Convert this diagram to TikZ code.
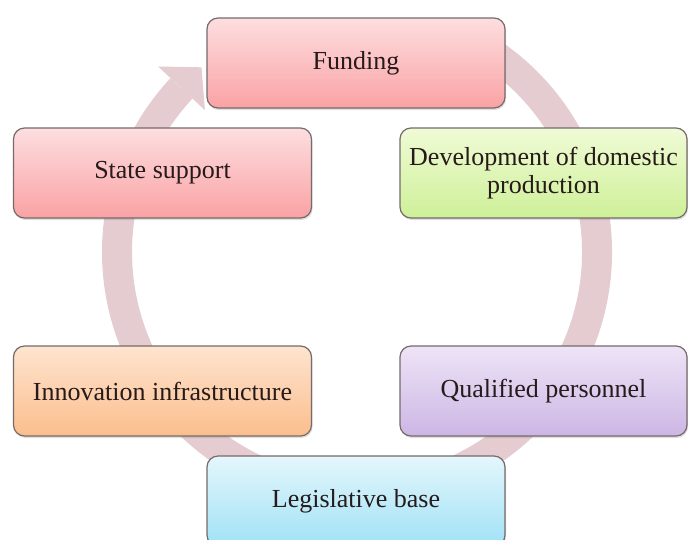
\documentclass[tikz,border=0pt]{standalone}
\usepackage{fontspec}
\setmainfont{Liberation Serif}
\usetikzlibrary{shadows}
\definecolor{ringc}{RGB}{229,204,208}
\definecolor{edgec}{RGB}{118,106,106}
\definecolor{txt}{RGB}{38,26,26}
\definecolor{redT}{RGB}{253,222,224}
\definecolor{redB}{RGB}{250,162,164}
\definecolor{grnT}{RGB}{240,251,214}
\definecolor{grnB}{RGB}{206,240,152}
\definecolor{purT}{RGB}{238,228,247}
\definecolor{purB}{RGB}{204,182,228}
\definecolor{orgT}{RGB}{254,228,208}
\definecolor{orgB}{RGB}{251,190,140}
\definecolor{cyaT}{RGB}{228,246,252}
\definecolor{cyaB}{RGB}{160,226,246}
\tikzset{
  cyclebox/.style={draw=edgec, line width=1.2pt, rounded corners=11pt,
    minimum height=90pt, text=txt, align=center, inner sep=0pt,
    font=\fontsize{26}{28}\selectfont,
    drop shadow={opacity=0.25, shadow xshift=1pt, shadow yshift=-2pt}},
  widebox/.style={cyclebox, minimum width=298pt},
  narrowbox/.style={cyclebox, minimum width=287pt},
  redbox/.style={top color=redT, bottom color=redB},
  grnbox/.style={top color=grnT, bottom color=grnB},
  purbox/.style={top color=purT, bottom color=purB},
  orgbox/.style={top color=orgT, bottom color=orgB},
  cyabox/.style={top color=cyaT, bottom color=cyaB},
  ring/.style={draw=ringc, line width=30pt},
  ringhead/.style={fill=ringc, draw=none}
}
\begin{document}
\begin{tikzpicture}[x=1pt,y=-1pt]
\clip (0,0) rectangle (688,539);
\fill[white] (0,0) rectangle (688,539);
% circular arrow
\coordinate (ctr) at (357,252);
\draw[ring] (ctr) ++(-60:240) arc[start angle=-60, end angle=223, radius=240];
\coordinate (hout) at (158.1,66.5);
\coordinate (hin) at (204.9,110.1);
\coordinate (htip) at (201.5,67.3);
\fill[ringhead] (hout) -- (htip) -- (hin) -- cycle;
% boxes
\node[widebox, redbox] (fund) at (356,63) {Funding};
\node[widebox, redbox] (state) at (162.5,173) {State support};
\node[narrowbox, grnbox] (dev) at (543.5,173) {Development of domestic\\production};
\node[widebox, orgbox] (innov) at (162.5,391) {Innovation infrastructure};
\node[narrowbox, purbox] (qual) at (543.5,391) {Qualified personnel};
\node[widebox, cyabox] (legis) at (356,501) {Legislative base};
\end{tikzpicture}
\end{document}
